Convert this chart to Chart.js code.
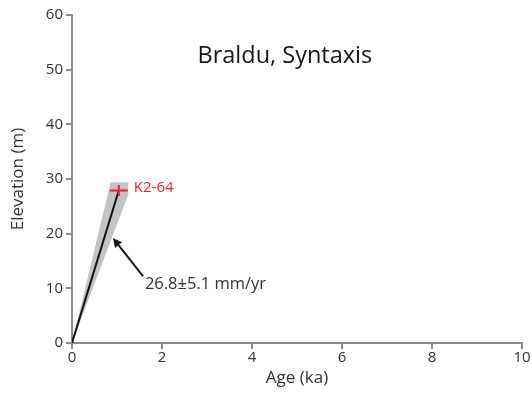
<!DOCTYPE html>
<html>
<head>
<meta charset="utf-8">
<script src="https://cdn.jsdelivr.net/npm/chart.js@4.4.0/dist/chart.umd.min.js"></script>
<style>
  html, body { margin: 0; padding: 0; background: #fff; }
  #wrap { width: 532px; height: 394px; }
</style>
</head>
<body>
<div id="wrap"><canvas id="c" width="532" height="394"></canvas></div>
<script>
// Sample K2-64 (Braldu terrace)
const sampleName = ['K2-64'];
const sampleAge = [1.04];     // ka
const sampleElev = [27.9];    // m
const sampleAgeErr = [0.2];   // ka
const sampleElevErr = [1.0];  // m

// Incision rate and its uncertainty envelope
const rateLabel = '26.8±5.1 mm/yr';
const envelopeAge = [0, 0.86, 1.25, 1.25, 0];
const envelopeElev = [0, 29.4, 29.4, 27.1, 0];

// Axes
const xTicks = [0, 2, 4, 6, 8, 10];
const yTicks = [0, 10, 20, 30, 40, 50, 60];

const axisGrey = '#8c8c8c';
const textDark = '#333333';
const font = '"Open Sans", "DejaVu Sans", sans-serif';

const annotations = {
  id: 'annotations',
  afterDatasetsDraw(chart) {
    const { ctx, scales: { x, y } } = chart;
    ctx.save();
    // red error cross on the sample
    sampleAge.forEach((a, i) => {
      const px = x.getPixelForValue(a), py = y.getPixelForValue(sampleElev[i]);
      ctx.strokeStyle = '#e8202a';
      ctx.lineWidth = 2;
      ctx.beginPath();
      ctx.moveTo(x.getPixelForValue(a - sampleAgeErr[i]), py);
      ctx.lineTo(x.getPixelForValue(a + sampleAgeErr[i]), py);
      ctx.moveTo(px, y.getPixelForValue(sampleElev[i] - sampleElevErr[i]));
      ctx.lineTo(px, y.getPixelForValue(sampleElev[i] + sampleElevErr[i]));
      ctx.stroke();
      ctx.fillStyle = '#e8202a';
      ctx.font = '15px ' + font;
      ctx.textAlign = 'left';
      ctx.textBaseline = 'alphabetic';
      ctx.fillText(sampleName[i], px + 15, py + 2);
    });

    // arrow pointing at the rate line
    const tx = x.getPixelForValue(1.58), ty = y.getPixelForValue(12.2);
    const hx = x.getPixelForValue(0.91), hy = y.getPixelForValue(19.2);
    ctx.strokeStyle = '#1a1a1a';
    ctx.fillStyle = '#1a1a1a';
    ctx.lineWidth = 2;
    const ang = Math.atan2(hy - ty, hx - tx);
    const hl = 9, hw = 4.5;
    const bx = hx - hl * Math.cos(ang), by = hy - hl * Math.sin(ang);
    ctx.beginPath();
    ctx.moveTo(tx, ty);
    ctx.lineTo(bx, by);
    ctx.stroke();
    ctx.beginPath();
    ctx.moveTo(hx, hy);
    ctx.lineTo(bx + hw * Math.sin(ang), by - hw * Math.cos(ang));
    ctx.lineTo(bx - hw * Math.sin(ang), by + hw * Math.cos(ang));
    ctx.closePath();
    ctx.fill();

    ctx.fillStyle = textDark;
    ctx.font = '16.5px ' + font;
    ctx.textAlign = 'left';
    ctx.textBaseline = 'alphabetic';
    ctx.fillText(rateLabel, x.getPixelForValue(1.62), y.getPixelForValue(9.9));

    // title inside the plot
    ctx.font = '23.5px ' + font;
    ctx.fillStyle = '#161616';
    ctx.textAlign = 'center';
    ctx.fillText('Braldu, Syntaxis', x.getPixelForValue(4.73), y.getPixelForValue(51.2));
    ctx.restore();
  }
};

new Chart(document.getElementById('c'), {
  type: 'scatter',
  data: {
    datasets: [
      {
        label: 'envelope',
        data: envelopeAge.map((a, i) => ({ x: a, y: envelopeElev[i] })),
        showLine: true,
        fill: 'shape',
        backgroundColor: 'rgba(188,188,188,0.9)',
        borderWidth: 0,
        pointRadius: 0,
        tension: 0,
        order: 2
      },
      {
        label: 'rate',
        data: [{ x: 0, y: 0 }, { x: sampleAge[0], y: sampleElev[0] }],
        showLine: true,
        borderColor: '#111',
        borderWidth: 2,
        pointRadius: 0,
        fill: false,
        order: 1
      }
    ]
  },
  options: {
    responsive: false,
    animation: false,
    events: [],
    layout: { padding: { left: 0, right: 10, top: 15, bottom: 4 } },
    plugins: { legend: { display: false }, tooltip: { enabled: false } },
    scales: {
      x: {
        type: 'linear', min: 0, max: 10,
        afterBuildTicks: s => { s.ticks = xTicks.map(v => ({ value: v })); },
        afterFit: s => { s.height = 47; },
        border: { color: axisGrey, width: 2 },
        grid: { drawOnChartArea: false, drawTicks: true, tickLength: 6, color: axisGrey, lineWidth: 2 },
        ticks: { color: textDark, font: { size: 15, family: font }, padding: 0, maxRotation: 0 },
        title: { display: true, text: 'Age (ka)', color: textDark, font: { size: 17, family: font }, padding: { top: 0, bottom: 2 } }
      },
      y: {
        type: 'linear', min: 0, max: 60,
        afterBuildTicks: s => { s.ticks = yTicks.map(v => ({ value: v })); },
        afterFit: s => { s.width = 72; },
        border: { color: axisGrey, width: 2 },
        grid: { drawOnChartArea: false, drawTicks: true, tickLength: 6, color: axisGrey, lineWidth: 2 },
        ticks: { color: textDark, font: { size: 15, family: font }, padding: 3 },
        title: { display: true, text: 'Elevation (m)', color: textDark, font: { size: 17, family: font }, padding: { top: 8, bottom: 0 } }
      }
    }
  },
  plugins: [annotations]
});
</script>
</body>
</html>
